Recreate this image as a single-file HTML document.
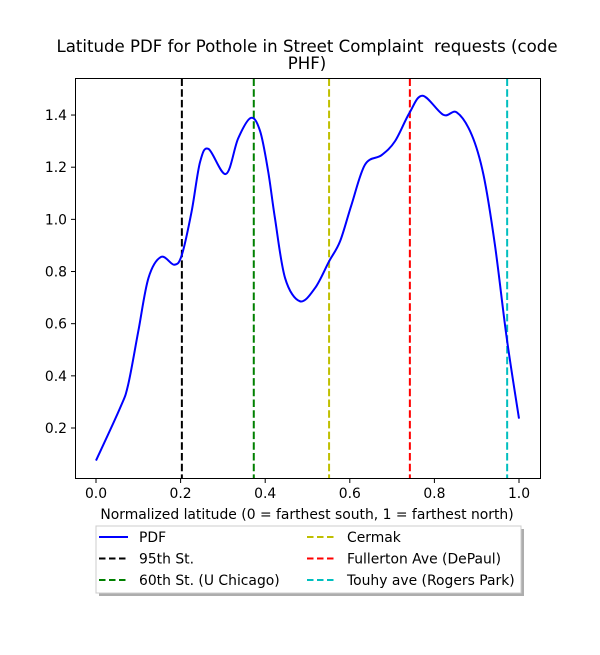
<!DOCTYPE html>
<html><head><meta charset="utf-8"><style>
body{margin:0;background:#fff;}
svg text{font-family:"DejaVu Sans","Liberation Sans",sans-serif;fill:#000;white-space:pre;}
</style></head><body>
<svg id="chart" width="600" height="650" xmlns="http://www.w3.org/2000/svg">
<rect width="600" height="650" fill="#fff"/>
<text x="307" y="52" font-size="16.6" text-anchor="middle" xml:space="preserve">Latitude PDF for Pothole in Street Complaint  requests (code</text>
<text x="307" y="69" font-size="16.6" text-anchor="middle">PHF)</text>
<g id="plot"></g>
<rect x="75.5" y="78.5" width="465" height="400" fill="none" stroke="#000" stroke-width="1"/>
<text x="307" y="519" font-size="13.9" text-anchor="middle">Normalized latitude (0 = farthest south, 1 = farthest north)</text>
<g>
<rect x="99" y="529" width="425" height="67" fill="#999" opacity="0.8"/>
<rect x="96" y="526" width="425" height="67" fill="#fff" stroke="#ccc"/>
<g id="legend-items"></g>
</g>
</svg>
<script>
const xs=[0,0.057,0.076,0.1,0.124,0.154,0.185,0.203,0.226,0.246,0.266,0.307,0.336,0.366,0.388,0.407,0.423,0.447,0.482,0.518,0.551,0.577,0.604,0.636,0.675,0.707,0.741,0.772,0.821,0.853,0.888,0.916,0.943,0.971,1.0];
const ys=[0.075,0.277,0.366,0.571,0.775,0.856,0.826,0.864,1.03,1.22,1.27,1.174,1.31,1.389,1.338,1.184,1.005,0.775,0.686,0.737,0.839,0.916,1.056,1.21,1.246,1.30,1.408,1.474,1.401,1.41,1.325,1.171,0.903,0.545,0.236];
const refNames=["95th St.","60th St. (U Chicago)","Cermak","Fullerton Ave (DePaul)","Touhy ave (Rogers Park)"];
const refXs=[0.203,0.373,0.551,0.742,0.972];
const refColors=["#000","#008000","#bfbf00","#ff0000","#00bfbf"];
const xTicks=[0,0.2,0.4,0.6,0.8,1.0];
const xTickLabels=["0.0","0.2","0.4","0.6","0.8","1.0"];
const yTicks=[0.2,0.4,0.6,0.8,1.0,1.2,1.4];
const yTickLabels=["0.2","0.4","0.6","0.8","1.0","1.2","1.4"];
const NS="http://www.w3.org/2000/svg";
const X=v=>96+423*v, Y=v=>428-(v-0.2)*260.8;
const g=document.getElementById('plot');
function mk(t,a,p){const e=document.createElementNS(NS,t);for(const k in a)e.setAttribute(k,a[k]);(p||g).appendChild(e);return e;}
xTicks.forEach((t,i)=>{
 const l=mk('line',{x1:X(t),x2:X(t),y1:478.5,y2:483,stroke:'#000'});
 
 
 const tx=mk('text',{x:X(t),y:498,'font-size':13.9,'text-anchor':'middle'});tx.textContent=xTickLabels[i];
 
 
});
yTicks.forEach((t,i)=>{
 const l=mk('line',{x1:71,x2:75.5,y1:Y(t),y2:Y(t),stroke:'#000'});
 
 
 const tx=mk('text',{x:67,y:Y(t)+5,'font-size':13.9,'text-anchor':'end'});tx.textContent=yTickLabels[i];
 
 
});
refXs.forEach((v,i)=>{
 const l=mk('line',{x1:X(v),x2:X(v),y1:78.5,y2:478.5,stroke:refColors[i],'stroke-width':2,'stroke-dasharray':'7.5,3.2'});
 
 
});
const P=xs.map((x,i)=>[X(x),Y(ys[i])]);
let d='M'+P[0][0]+','+P[0][1];
for(let i=0;i<P.length-1;i++){const p0=P[Math.max(i-1,0)],p1=P[i],p2=P[i+1],p3=P[Math.min(i+2,P.length-1)];
 d+=` C${p1[0]+(p2[0]-p0[0])/6},${p1[1]+(p2[1]-p0[1])/6} ${p2[0]-(p3[0]-p1[0])/6},${p2[1]-(p3[1]-p1[1])/6} ${p2[0]},${p2[1]}`;}
const pdf=mk('path',{d:d,fill:'none',stroke:'#0000ff','stroke-width':2,'stroke-linejoin':'round'});


const lg=document.getElementById('legend-items');
const items=[["PDF","#0000ff",false]].concat(refNames.map((n,i)=>[n,refColors[i],true]));
items.forEach((it,i)=>{
 const col=i<3?0:1,row=i%3;const x0=col?307:99,y0=537+row*21.5;
 const l=mk('line',{x1:x0,x2:x0+29,y1:y0,y2:y0,stroke:it[1],'stroke-width':2},lg);
 if(it[2])l.setAttribute('stroke-dasharray','6.5,3.5');
 const t=mk('text',{x:x0+40,y:y0+5,'font-size':13.9},lg);t.textContent=it[0];
 
 
});
</script>
</body></html>
